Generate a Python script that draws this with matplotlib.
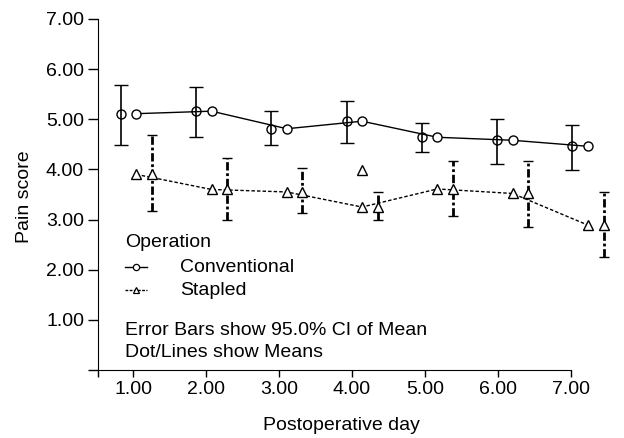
import numpy as np
import matplotlib
matplotlib.use("Agg")
import matplotlib.pyplot as plt

plt.rcParams["font.family"] = ["Liberation Sans", "DejaVu Sans"]

# -------------------------------
# Data
# -------------------------------
days = np.array([1, 2, 3, 4, 5, 6, 7])

conv_mean = [5.11, 5.16, 4.81, 4.96, 4.64, 4.58, 4.46]
conv_low = [4.48, 4.64, 4.48, 4.52, 4.35, 4.10, 3.98]
conv_high = [5.69, 5.64, 5.17, 5.36, 4.93, 5.01, 4.89]

stap_mean = [3.90, 3.60, 3.55, 3.25, 3.61, 3.52, 2.89]
stap_low = [3.17, 3.00, 3.13, 3.00, 3.08, 2.86, 2.26]
stap_high = [4.68, 4.22, 4.03, 3.55, 4.17, 4.17, 3.55]

# stray triangle near day 4
stray_day = 4
stray_val = 3.98

y_ticks = [0, 1, 2, 3, 4, 5, 6, 7]

FS = 14

# -------------------------------
# Figure
# -------------------------------
fig = plt.figure(figsize=(6.24, 4.38), dpi=100)
ax = fig.add_axes([0.157, 0.155, 0.758, 0.802])

# horizontal placement of the marks, as drawn in the original
pos = days * 1.031 + 0.014
conv_err_x = pos - 0.21
stap_err_x = pos + 0.215

cm = np.array(conv_mean)
sm = np.array(stap_mean)

# Conventional
ax.plot(pos, cm, color="black", lw=1.0, marker="o", ms=6.5,
        mfc="white", mec="black", mew=1.0, clip_on=False, zorder=3)
ax.errorbar(conv_err_x, cm,
            yerr=[cm - np.array(conv_low), np.array(conv_high) - cm],
            fmt="o", ms=6.5, mfc="none", mec="black", mew=1.0,
            ecolor="black", elinewidth=1.2, capsize=5, capthick=1.2,
            clip_on=False, zorder=3)

# Stapled
ax.plot(pos, sm, color="black", lw=1.0, ls=(0, (2.5, 1.5)), marker="^", ms=7,
        mfc="white", mec="black", mew=1.0, clip_on=False, zorder=3)
eb = ax.errorbar(stap_err_x, sm,
                 yerr=[sm - np.array(stap_low), np.array(stap_high) - sm],
                 fmt="^", ms=7, mfc="white", mec="black", mew=1.0,
                 ecolor="black", elinewidth=2.0, capsize=3.5, capthick=1.6,
                 clip_on=False, zorder=3)
for lc in eb[2]:
    lc.set_linestyle((0, (3, 1, 1, 1)))

ax.plot([stray_day * 1.031 + 0.014], [stray_val], ls="none", marker="^", ms=7,
        mfc="white", mec="black", mew=1.0, clip_on=False, zorder=3)

# -------------------------------
# Axes
# -------------------------------
ax.set_xlim(0.52, 7.0)
ax.set_ylim(0, 7)
ax.set_xticks([0.52] + list(days))
ax.set_xticklabels([""] + ["%.2f" % d for d in days])
ax.set_yticks(y_ticks)
ax.set_yticklabels([""] + ["%.2f" % v for v in y_ticks[1:]])
ax.tick_params(axis="x", direction="out", length=5, width=1, labelsize=FS, pad=3)
ax.tick_params(axis="y", direction="out", length=7, width=1, labelsize=FS, pad=3)
ax.spines["top"].set_visible(False)
ax.spines["right"].set_visible(False)

ax.set_xlabel("Postoperative day", fontsize=FS, va="center")
ax.xaxis.set_label_coords(0.514, -0.157)
ax.set_ylabel("Pain score", fontsize=FS, va="center")
ax.yaxis.set_label_coords(-0.156, 0.493)

# -------------------------------
# Legend + notes (drawn by hand, SPSS style)
# -------------------------------
tr = ax.transAxes
ax.text(0.057, 0.362, "Operation", transform=tr, fontsize=FS, va="center")

ax.plot([0.057, 0.104], [0.293, 0.293], transform=tr, color="black", lw=1.0,
        clip_on=False)
ax.plot([0.080], [0.293], transform=tr, marker="o", ms=4.5, mfc="white",
        mec="black", mew=0.9, clip_on=False)
ax.text(0.173, 0.293, "Conventional", transform=tr, fontsize=FS, va="center")

ax.plot([0.057, 0.104], [0.228, 0.228], transform=tr, color="black", lw=1.0,
        ls=(0, (2, 1)), clip_on=False)
ax.plot([0.080], [0.228], transform=tr, marker="^", ms=5, mfc="white",
        mec="black", mew=0.9, clip_on=False)
ax.text(0.173, 0.228, "Stapled", transform=tr, fontsize=FS, va="center")

ax.text(0.057, 0.114, "Error Bars show 95.0% CI of Mean", transform=tr,
        fontsize=FS, va="center", ha="left")
ax.text(0.057, 0.051, "Dot/Lines show Means", transform=tr,
        fontsize=FS, va="center", ha="left")

fig.savefig("out.png", dpi=100)
plt.close(fig)
